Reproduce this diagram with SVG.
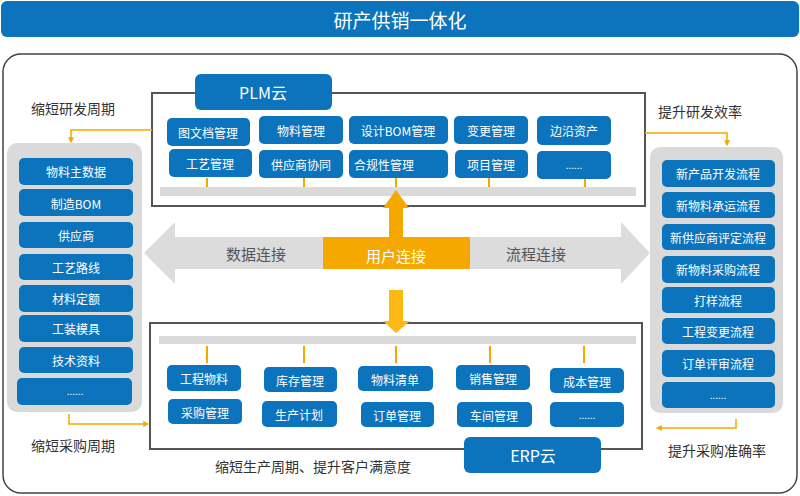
<svg xmlns="http://www.w3.org/2000/svg" width="800" height="496" viewBox="0 0 800 496">
<defs>
<style>
text{font-family:"Noto Sans CJK SC","Liberation Sans",sans-serif;}
.b{fill:#0b74bd;}
.w{fill:#fff;font-size:12px;text-anchor:middle;dominant-baseline:central;}
.lbl{fill:#333;font-size:14px;text-anchor:middle;dominant-baseline:central;}
.panel{fill:#dadada;}
.frame{fill:#fff;stroke:#555;stroke-width:2;}
.tick{stroke:#f5a800;stroke-width:2;}
.conn{fill:none;stroke:#f5a800;stroke-width:1.5;}
</style>
<marker id="ah" viewBox="0 0 10 10" refX="8" refY="5" markerWidth="4" markerHeight="4" orient="auto"><path d="M0,0L10,5L0,10z" fill="#f5a800"/></marker>
</defs>
<rect width="800" height="496" fill="#fff"/>
<g id="title">
<rect x="1" y="1" width="798" height="36" rx="6" class="b"/>
<text x="400" y="19" style="fill:#fff;font-size:19px;text-anchor:middle;dominant-baseline:central">研产供销一体化</text>
</g>
<rect x="3" y="54" width="794" height="439" rx="18" fill="none" stroke="#444" stroke-width="1.5"/>

<g id="plm">
<rect x="152" y="93" width="493" height="113" class="frame"/>
<rect x="160" y="187" width="476" height="9" fill="#dadada"/>
<line x1="207" y1="178" x2="207" y2="187" class="tick"/>
<line x1="304" y1="178" x2="304" y2="187" class="tick"/>
<line x1="396" y1="178" x2="396" y2="187" class="tick"/>
<line x1="489" y1="178" x2="489" y2="187" class="tick"/>
<line x1="585" y1="178" x2="585" y2="187" class="tick"/>
<rect x="195" y="74" width="137" height="36" rx="6" class="b"/>
<text x="263" y="92" style="fill:#fff;font-size:16px;text-anchor:middle;dominant-baseline:central">PLM云</text>
</g>
<g id="plm-items">
<g id="p1"><rect x="167" y="118" width="83" height="28" rx="5" class="b"/><text x="208" y="132" class="w">图文档管理</text></g>
<g id="p2"><rect x="259" y="116" width="84" height="28" rx="5" class="b"/><text x="301" y="130" class="w">物料管理</text></g>
<g id="p3"><rect x="349" y="116" width="99" height="28" rx="5" class="b"/><text x="398" y="130" class="w">设计BOM管理</text></g>
<g id="p4"><rect x="454" y="116" width="74" height="28" rx="5" class="b"/><text x="491" y="130" class="w">变更管理</text></g>
<g id="p5"><rect x="537" y="116" width="74" height="29" rx="5" class="b"/><text x="574" y="130" class="w">边沿资产</text></g>
<g id="p6"><rect x="169" y="149" width="83" height="28" rx="5" class="b"/><text x="210" y="163" class="w">工艺管理</text></g>
<g id="p7"><rect x="259" y="150" width="84" height="28" rx="5" class="b"/><text x="301" y="164" class="w">供应商协同</text></g>
<g id="p8"><rect x="349" y="150" width="99" height="28" rx="5" class="b"/><text x="384" y="164" class="w">合规性管理</text></g>
<g id="p9"><rect x="455" y="150" width="73" height="28" rx="5" class="b"/><text x="491" y="164" class="w">项目管理</text></g>
<g id="p10"><rect x="537" y="151" width="74" height="28" rx="5" class="b"/><text x="574" y="164" class="w" style="font-size:10px">......</text></g>
</g>

<g id="erp">
<rect x="150" y="323" width="492" height="126" class="frame"/>
<rect x="159" y="336" width="477" height="8" fill="#dadada"/>
<line x1="207" y1="346" x2="207" y2="363" class="tick"/>
<line x1="304" y1="346" x2="304" y2="363" class="tick"/>
<line x1="396" y1="346" x2="396" y2="363" class="tick"/>
<line x1="490" y1="346" x2="490" y2="363" class="tick"/>
<line x1="584" y1="346" x2="584" y2="363" class="tick"/>
<rect x="464" y="437" width="137" height="36" rx="6" class="b"/>
<text x="533" y="455" style="fill:#fff;font-size:16px;text-anchor:middle;dominant-baseline:central">ERP云</text>
</g>
<g id="erp-items">
<g id="e1"><rect x="167" y="365" width="74" height="26" rx="5" class="b"/><text x="204" y="378" class="w">工程物料</text></g>
<g id="e2"><rect x="264" y="367" width="73" height="25" rx="5" class="b"/><text x="300" y="380" class="w">库存管理</text></g>
<g id="e3"><rect x="358" y="366" width="75" height="25" rx="5" class="b"/><text x="395" y="379" class="w">物料清单</text></g>
<g id="e4"><rect x="456" y="365" width="74" height="25" rx="5" class="b"/><text x="493" y="378" class="w">销售管理</text></g>
<g id="e5"><rect x="550" y="368" width="74" height="25" rx="5" class="b"/><text x="587" y="381" class="w">成本管理</text></g>
<g id="e6"><rect x="168" y="399" width="74" height="25" rx="5" class="b"/><text x="205" y="412" class="w">采购管理</text></g>
<g id="e7"><rect x="262" y="401" width="75" height="26" rx="5" class="b"/><text x="299" y="414" class="w">生产计划</text></g>
<g id="e8"><rect x="361" y="402" width="73" height="25" rx="5" class="b"/><text x="397" y="415" class="w">订单管理</text></g>
<g id="e9"><rect x="457" y="402" width="75" height="25" rx="5" class="b"/><text x="494" y="415" class="w">车间管理</text></g>
<g id="e10"><rect x="550" y="402" width="74" height="25" rx="5" class="b"/><text x="587" y="414" class="w" style="font-size:10px">......</text></g>
</g>

<g id="left-panel">
<rect x="7" y="143" width="135" height="269" rx="10" class="panel"/>
<g id="l1"><rect x="19" y="158" width="114" height="27" rx="5" class="b"/><text x="76" y="171" class="w">物料主数据</text></g>
<g id="l2"><rect x="19" y="189" width="114" height="27" rx="5" class="b"/><text x="76" y="203" class="w">制造BOM</text></g>
<g id="l3"><rect x="19" y="222" width="114" height="26" rx="5" class="b"/><text x="76" y="235" class="w">供应商</text></g>
<g id="l4"><rect x="19" y="254" width="114" height="26" rx="5" class="b"/><text x="76" y="267" class="w">工艺路线</text></g>
<g id="l5"><rect x="19" y="285" width="114" height="27" rx="5" class="b"/><text x="76" y="298" class="w">材料定额</text></g>
<g id="l6"><rect x="19" y="315" width="114" height="27" rx="5" class="b"/><text x="76" y="328" class="w">工装模具</text></g>
<g id="l7"><rect x="19" y="347" width="114" height="26" rx="5" class="b"/><text x="76" y="360" class="w">技术资料</text></g>
<g id="l8"><rect x="17" y="378" width="115" height="27" rx="5" class="b"/><text x="75" y="390" class="w" style="font-size:10px">......</text></g>
</g>

<g id="right-panel">
<rect x="650" y="147" width="133" height="266" rx="10" class="panel"/>
<g id="r1"><rect x="662" y="160" width="113" height="27" rx="5" class="b"/><text x="718" y="173" class="w">新产品开发流程</text></g>
<g id="r2"><rect x="662" y="192" width="113" height="26" rx="5" class="b"/><text x="718" y="205" class="w">新物料承运流程</text></g>
<g id="r3"><rect x="662" y="224" width="113" height="26" rx="5" class="b"/><text x="718" y="237" class="w">新供应商评定流程</text></g>
<g id="r4"><rect x="662" y="256" width="113" height="27" rx="5" class="b"/><text x="718" y="269" class="w">新物料采购流程</text></g>
<g id="r5"><rect x="662" y="287" width="113" height="26" rx="5" class="b"/><text x="718" y="300" class="w">打样流程</text></g>
<g id="r6"><rect x="662" y="318" width="113" height="26" rx="5" class="b"/><text x="718" y="331" class="w">工程变更流程</text></g>
<g id="r7"><rect x="662" y="350" width="113" height="27" rx="5" class="b"/><text x="718" y="363" class="w">订单评审流程</text></g>
<g id="r8"><rect x="662" y="382" width="113" height="26" rx="5" class="b"/><text x="718" y="394" class="w" style="font-size:10px">......</text></g>
</g>

<g id="middle">
<path d="M144,253 L175,222 L175,237 L621,237 L621,222 L650,253 L621,284 L621,269 L175,269 L175,284 Z" fill="#dcdcdc"/>
<text x="256" y="253" style="fill:#555;font-size:15px;text-anchor:middle;dominant-baseline:central">数据连接</text>
<text x="536" y="253" style="fill:#555;font-size:15px;text-anchor:middle;dominant-baseline:central">流程连接</text>
<rect x="323" y="237" width="147" height="32" fill="#f5a800"/>
<text x="396" y="255" style="fill:#fff;font-size:15px;text-anchor:middle;dominant-baseline:central">用户连接</text>
</g>

<g id="labels">
<text x="73" y="108" class="lbl">缩短研发周期</text>
<text x="73" y="445" class="lbl">缩短采购周期</text>
<text x="700" y="111" class="lbl">提升研发效率</text>
<text x="717" y="450" class="lbl">提升采购准确率</text>
<text x="313" y="466" class="lbl">缩短生产周期、提升客户满意度</text>
</g>

<g id="connectors">
<path d="M389,237 L389,208 L383,208 L396,190 L409,208 L403,208 L403,237 Z" fill="#f5a800"/>
<path d="M389,290 L403,290 L403,321 L410,321 L396,333 L383,321 L389,321 Z" fill="#fdb913"/>
<path d="M152,130 L71,130 L71,142" class="conn" marker-end="url(#ah)"/>
<path d="M645,133 L727,133 L727,145" class="conn" marker-end="url(#ah)"/>
<path d="M69,414 L69,424 L148,424" class="conn" marker-end="url(#ah)"/>
<path d="M736,419 L736,428 L657,428" class="conn" marker-end="url(#ah)"/>
</g>
</svg>
